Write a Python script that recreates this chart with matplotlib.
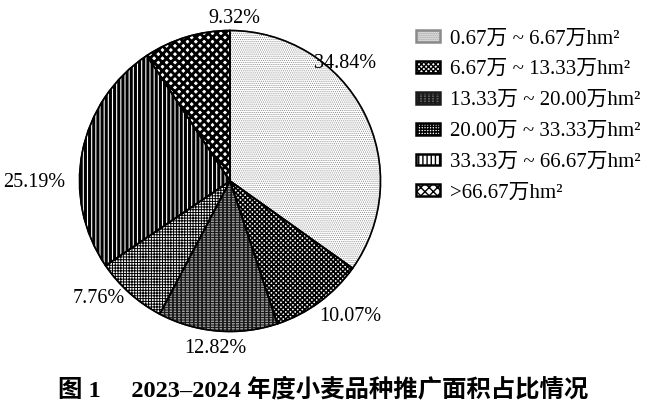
import matplotlib
matplotlib.use("Agg")
import matplotlib.pyplot as plt

categories = ["0.67万 ~ 6.67万hm²", "6.67万 ~ 13.33万hm²",
              "13.33万 ~ 20.00万hm²", "20.00万 ~ 33.33万hm²",
              "33.33万 ~ 66.67万hm²", ">66.67万hm²"]
shares = [34.84, 10.07, 12.82, 7.76, 25.19, 9.32]
share_labels = ["34.84%", "10.07%", "12.82%", "7.76%", "25.19%", "9.32%"]
title = "图 1     2023–2024 年度小麦品种推广面积占比情况"

# styles
hatches = ["........", "xxxxxxx", "----------||||", "++++++", "||||", "xxxx"]
hatch_colors = ["#8a8a8a", "black", "#1a1a1a", "black", "black", "black"]
hatch_lw = [0.5, 1.2, 0.8, 0.7, 2.2, 2.1]
label_pos = [(0.767, 0.783), (0.80, -0.90), (-0.10, -1.11), (-0.875, -0.78),
             (-1.30, -0.01), (0.03, 1.08)]

fam = ['Liberation Serif', 'Noto Sans CJK SC']

fig = plt.figure(figsize=(6.5, 4.16), dpi=100)
cx, cy, r = 230, 181, 152
ax = fig.add_axes([(cx - r) / 650, (416 - cy - r) / 416, 2 * r / 650, 2 * r / 416])
wedges, _ = ax.pie(shares, startangle=90, counterclock=False,
                   colors=['white'] * len(shares),
                   wedgeprops=dict(linewidth=1.0))
for w, h, hc, lw in zip(wedges, hatches, hatch_colors, hatch_lw):
    w.set_edgecolor(hc)
    w.set_hatch(h)
    if hasattr(w, 'set_hatch_linewidth'):
        w.set_hatch_linewidth(lw)
# black outlines on top
ax.pie(shares, startangle=90, counterclock=False,
       wedgeprops=dict(fill=False, edgecolor='black', linewidth=1.2))
ax.set_xlim(-1.01, 1.01)
ax.set_ylim(-1.01, 1.01)
ax.set_aspect('equal')
for lab, (x, y) in zip(share_labels, label_pos):
    ax.text(x, y, lab, ha='center', va='center', fontsize=14.5,
            family='Liberation Serif', clip_on=False)

leg = fig.legend(wedges, categories, loc='upper left',
                 bbox_to_anchor=(406 / 650, 1 - 19 / 416), frameon=False,
                 prop=dict(family=fam, size=15), handlelength=1.15,
                 handleheight=0.5, handletextpad=0.45, labelspacing=0.57,
                 borderpad=0)
for hnd in leg.legend_handles:
    hnd.set_linewidth(1.8)

fig.text(0.497, 1 - 389 / 416, title, ha='center', va='center', fontsize=17.6,
         fontweight='bold', family=fam)

fig.savefig("out.png", dpi=100)
